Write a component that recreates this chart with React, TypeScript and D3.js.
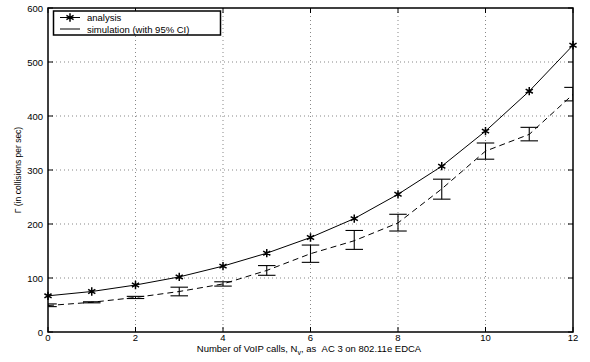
import { useEffect, useRef } from "react";
import * as d3 from "d3";

const voipCalls = [0, 1, 2, 3, 4, 5, 6, 7, 8, 9, 10, 11, 12];
const analysis = [67, 75, 87, 102, 122, 146, 175, 210, 255, 307, 372, 446, 531];
const simMean = [49, 55, 64, 75, 89, 114, 145, 169, 202, 265, 335, 366, 440];
const simLow = [47, 54, 62, 67, 85, 105, 129, 153, 187, 246, 320, 354, 428];
const simHigh = [52, 56, 66, 83, 93, 123, 161, 188, 218, 283, 350, 379, 453];
const xTicks = [0, 2, 4, 6, 8, 10, 12];
const yTicks = [0, 100, 200, 300, 400, 500, 600];
const legendLabels = ["analysis", "simulation (with 95% CI)"];

const App = () => {
    const svgRef = useRef<SVGSVGElement>(null);

    useEffect(() => {
        const svg = d3.select(svgRef.current);
        svg.selectAll("*").remove();

        const width = 590;
        const height = 362;
        const left = 48;
        const right = 573;
        const top = 8;
        const bottom = 332;
        const font = "Liberation Sans, Arial, Helvetica, sans-serif";

        svg.attr("width", width).attr("height", height);
        svg.append("rect").attr("width", width).attr("height", height).attr("fill", "#fff");

        const x = d3.scaleLinear().domain([0, 12]).range([left, right]);
        const y = d3.scaleLinear().domain([0, 600]).range([bottom, top]);

        svg.append("defs")
            .append("clipPath")
            .attr("id", "plot-clip")
            .append("rect")
            .attr("x", left)
            .attr("y", top)
            .attr("width", right - left)
            .attr("height", bottom - top);

        // dotted grid
        const grid = svg.append("g").attr("stroke", "#555").attr("stroke-width", 0.7).attr("stroke-dasharray", "1,3");
        xTicks.slice(1, -1).forEach((t) => {
            grid.append("line").attr("x1", x(t)).attr("x2", x(t)).attr("y1", top).attr("y2", bottom);
        });
        yTicks.slice(1, -1).forEach((t) => {
            grid.append("line").attr("x1", left).attr("x2", right).attr("y1", y(t)).attr("y2", y(t));
        });

        const plot = svg.append("g").attr("clip-path", "url(#plot-clip)");

        // simulation: dashed mean line + CI bars
        const idx = d3.range(voipCalls.length);
        const simLine = d3
            .line<number>()
            .x((i) => x(voipCalls[i]))
            .y((i) => y(simMean[i]));
        plot.append("path")
            .attr("d", simLine(idx))
            .attr("fill", "none")
            .attr("stroke", "#000")
            .attr("stroke-width", 1)
            .attr("stroke-dasharray", "6,4");

        const capHalf = x(0.2) - x(0);
        idx.forEach((i) => {
            const cx = x(voipCalls[i]);
            const g = plot.append("g").attr("stroke", "#000").attr("stroke-width", 1.1);
            g.append("line").attr("x1", cx).attr("x2", cx).attr("y1", y(simLow[i])).attr("y2", y(simHigh[i]));
            g.append("line").attr("x1", cx - capHalf).attr("x2", cx + capHalf).attr("y1", y(simLow[i])).attr("y2", y(simLow[i]));
            g.append("line").attr("x1", cx - capHalf).attr("x2", cx + capHalf).attr("y1", y(simHigh[i])).attr("y2", y(simHigh[i]));
        });

        // analysis: solid line with asterisks
        const anaLine = d3
            .line<number>()
            .x((i) => x(voipCalls[i]))
            .y((i) => y(analysis[i]));
        plot.append("path")
            .attr("d", anaLine(idx))
            .attr("fill", "none")
            .attr("stroke", "#000")
            .attr("stroke-width", 1);

        const star = d3.symbol().type(d3.symbolAsterisk).size(48);
        svg.append("g")
            .selectAll("path")
            .data(idx)
            .enter()
            .append("path")
            .attr("d", star)
            .attr("transform", (i) => `translate(${x(voipCalls[i])},${y(analysis[i])})`)
            .attr("fill", "none")
            .attr("stroke", "#000")
            .attr("stroke-width", 1.5);

        // axes box and inward ticks
        const axes = svg.append("g").attr("stroke", "#000");
        axes.append("rect")
            .attr("x", left)
            .attr("y", top)
            .attr("width", right - left)
            .attr("height", bottom - top)
            .attr("fill", "none")
            .attr("stroke-width", 1.5);
        const tl = 5;
        xTicks.forEach((t) => {
            axes.append("line").attr("x1", x(t)).attr("x2", x(t)).attr("y1", bottom).attr("y2", bottom - tl).attr("stroke-width", 1);
            axes.append("line").attr("x1", x(t)).attr("x2", x(t)).attr("y1", top).attr("y2", top + tl).attr("stroke-width", 1);
        });
        yTicks.forEach((t) => {
            axes.append("line").attr("x1", left).attr("x2", left + tl).attr("y1", y(t)).attr("y2", y(t)).attr("stroke-width", 1);
            axes.append("line").attr("x1", right).attr("x2", right - tl).attr("y1", y(t)).attr("y2", y(t)).attr("stroke-width", 1);
        });

        const labels = svg.append("g").attr("font-family", font).attr("font-size", 9.5).attr("fill", "#000");
        xTicks.forEach((t) => {
            labels.append("text").attr("x", x(t)).attr("y", bottom + 9).attr("text-anchor", "middle").text(t);
        });
        yTicks.forEach((t) => {
            labels.append("text").attr("x", left - 5).attr("y", y(t) + 3.5).attr("text-anchor", "end").text(t);
        });

        // axis titles
        const xTitle = svg.append("text")
            .attr("x", 309)
            .attr("y", 352)
            .attr("text-anchor", "middle")
            .attr("font-family", font)
            .attr("font-size", 9.5);
        xTitle.append("tspan").text("Number of VoIP calls, N");
        xTitle.append("tspan").attr("dy", 3).attr("font-size", 7).text("v");
        xTitle.append("tspan").attr("dy", -3).text(", as\u00a0\u00a0AC 3 on 802.11e EDCA");

        svg.append("text")
            .attr("transform", `translate(21,${(top + bottom) / 2}) rotate(-90)`)
            .attr("text-anchor", "middle")
            .attr("font-family", font)
            .attr("font-size", 8.5)
            .text("\u0393 (in collisions per sec)");

        // legend
        const lg = svg.append("g");
        lg.append("rect")
            .attr("x", 53.5)
            .attr("y", 11)
            .attr("width", 167)
            .attr("height", 24)
            .attr("fill", "#fff")
            .attr("stroke", "#000")
            .attr("stroke-width", 1.5);
        const rowsY = [17.5, 29];
        rowsY.forEach((ry, k) => {
            lg.append("line").attr("x1", 60).attr("x2", 80).attr("y1", ry).attr("y2", ry).attr("stroke", "#000").attr("stroke-width", 1);
            lg.append("text")
                .attr("x", 87)
                .attr("y", ry + 3.5)
                .attr("font-family", font)
                .attr("font-size", 9.5)
                .text(legendLabels[k]);
        });
        lg.append("path")
            .attr("d", star)
            .attr("transform", `translate(70,${rowsY[0]})`)
            .attr("fill", "none")
            .attr("stroke", "#000")
            .attr("stroke-width", 1.5);
    }, []);

    return <svg ref={svgRef} style={{ position: "absolute", left: 0, top: 0 }} />;
};

export default App;
